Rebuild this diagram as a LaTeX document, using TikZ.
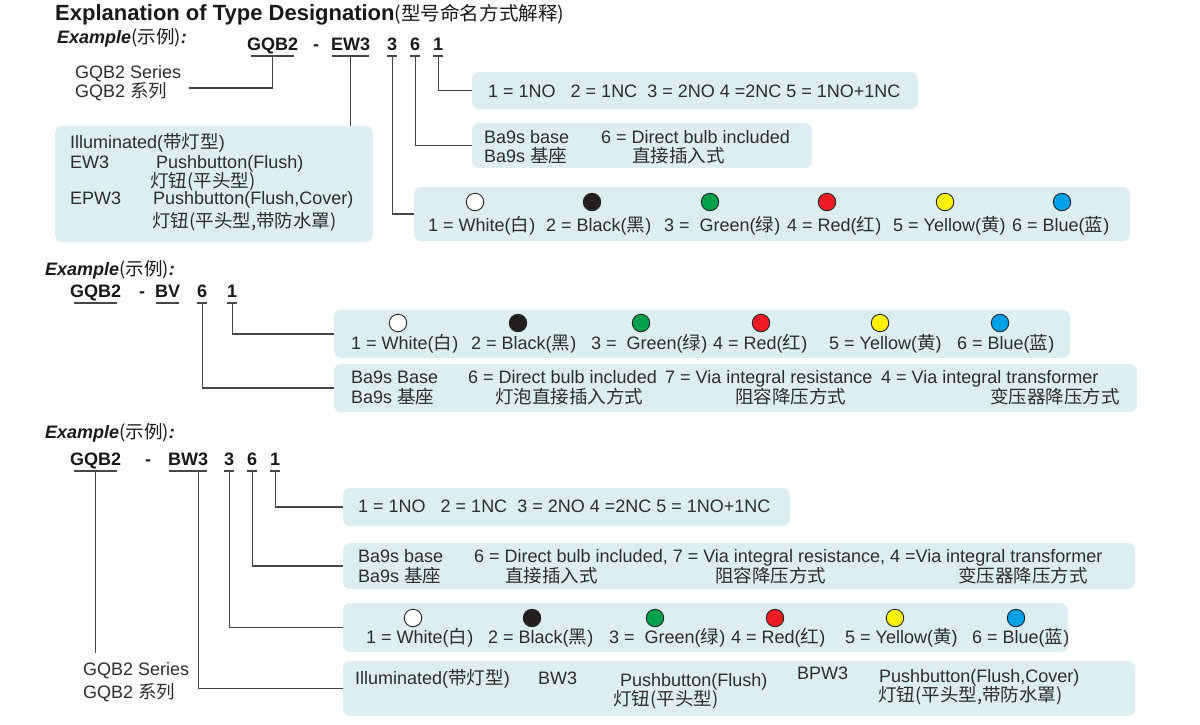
\documentclass[tikz,border=0pt]{standalone}
\usepackage{fontspec}
\setmainfont{Liberation Sans}
\newfontfamily\cjk[FakeStretch=1.03]{Noto Sans CJK SC}
\newcommand{\zh}[1]{{\cjk #1}}
\definecolor{boxcol}{RGB}{220,238,242}
\definecolor{tcol}{RGB}{45,45,45}
\definecolor{lcol}{RGB}{70,70,70}
\definecolor{cgreen}{RGB}{0,161,75}
\definecolor{cred}{RGB}{237,28,36}
\definecolor{cyellow}{RGB}{255,242,0}
\definecolor{cblue}{RGB}{0,160,233}
\definecolor{cblack}{RGB}{35,31,32}
\begin{document}
\begin{tikzpicture}[x=1pt,y=-1pt,
  box/.style={fill=boxcol, rounded corners=7pt, draw=none, inner sep=0pt, outer sep=0pt},
  txt/.style={anchor=base west, inner sep=0pt, text=tcol, font=\fontsize{18}{21}\selectfont},
  codetxt/.style={anchor=base west, inner sep=0pt, text=black!90, font=\bfseries\fontsize{18}{21}\selectfont},
  extxt/.style={anchor=base west, inner sep=0pt, text=black!90, font=\bfseries\itshape\fontsize{18}{21}\selectfont},
  conn/.style={draw=lcol, line width=1.4pt},
  uline/.style={draw=lcol, line width=1.4pt},
  swatch/.style={circle, draw=black!85, line width=0.9pt, minimum size=17.5pt, inner sep=0pt}]
\fill[white] (0,0) rectangle (1200,724);
\useasboundingbox (0,0) rectangle (1200,724);

% ---------- boxes ----------
\node[box, minimum width=446pt, minimum height=37pt] (b11) at (695,90.5) {};
\node[box, minimum width=340pt, minimum height=45pt] (b12) at (642,145.5) {};
\node[box, minimum width=716pt, minimum height=54pt] (b13) at (772,214) {};
\node[box, minimum width=318pt, minimum height=116pt] (b14) at (214,184) {};
\node[box, minimum width=736pt, minimum height=48pt] (b21) at (702,334) {};
\node[box, minimum width=803pt, minimum height=48pt] (b22) at (735.5,388) {};
\node[box, minimum width=447pt, minimum height=38pt] (b31) at (566.5,507) {};
\node[box, minimum width=792pt, minimum height=46pt] (b32) at (739,566) {};
\node[box, minimum width=725pt, minimum height=49pt] (b33) at (705.5,627.5) {};
\node[box, minimum width=792pt, minimum height=55pt] (b34) at (739,688.5) {};

% ---------- title ----------
\node[anchor=base west, inner sep=0pt, text=black!90, font=\bfseries\fontsize{22}{26}\selectfont] (title) at (55,20)
  {Explanation of Type Designation{\mdseries\cjk\fontsize{19}{22}\selectfont (型号命名方式解释)}};

% ---------- example 1 ----------
\node[extxt] (ex1) at (57,43) {Example{\mdseries\upshape\cjk\fontsize{18}{21}\selectfont (示例)}:};
\node[codetxt] (c1g) at (247,50) {GQB2};
\node[codetxt] (c1d) at (313,50) {-};
\node[codetxt] (c1e) at (331,50) {EW3};
\node[codetxt] (c1a) at (387,50) {3};
\node[codetxt] (c1b) at (410,50) {6};
\node[codetxt] (c1c) at (433,50) {1};

\node[txt] (s1a) at (75,78) {GQB2 Series};
\node[txt] (s1b) at (75,97) {GQB2 \zh{系列}};
\coordinate (s1end) at (189,88);

\node[txt] (i1a) at (70,148) {Illuminated(\zh{带灯型})};
\node[txt] (i1b) at (70,168) {EW3};
\node[txt] (i1c) at (156,168) {Pushbutton(Flush)};
\node[txt] (i1d) at (150,187) {\zh{灯钮(平头型)}};
\node[txt] (i1e) at (70,204) {EPW3};
\node[txt] (i1f) at (153,204) {Pushbutton(Flush,Cover)};
\node[txt] (i1g) at (152,227) {\zh{灯钮(平头型,带防水罩)}};

\node[txt] (t11) at (488,97) {1 = 1NO\ \ \ 2 = 1NC\ \ 3 = 2NO 4 =2NC 5 = 1NO+1NC};

\node[txt] (t12a) at (484,143) {Ba9s base};
\node[txt] (t12b) at (484,162) {Ba9s \zh{基座}};
\node[txt] (t12c) at (601,143) {6 = Direct bulb included};
\node[txt] (t12d) at (632,162) {\zh{直接插入式}};

\node[swatch, fill=white] (d13a) at (475,202) {};
\node[swatch, fill=cblack] (d13b) at (592,202) {};
\node[swatch, fill=cgreen] (d13c) at (710,202) {};
\node[swatch, fill=cred] (d13d) at (827,202) {};
\node[swatch, fill=cyellow] (d13e) at (945,202) {};
\node[swatch, fill=cblue] (d13f) at (1062,202) {};
\node[txt] (t13a) at (428,231) {1 = White(\zh{白})};
\node[txt] (t13b) at (546,231) {2 = Black(\zh{黑})};
\node[txt] (t13c) at (664,231) {3 =\ \ Green(\zh{绿})};
\node[txt] (t13d) at (787,231) {4 = Red(\zh{红})};
\node[txt] (t13e) at (893,231) {5 = Yellow(\zh{黄})};
\node[txt] (t13f) at (1012,231) {6 = Blue(\zh{蓝})};

% ---------- example 2 ----------
\node[extxt] (ex2) at (45,275) {Example{\mdseries\upshape\cjk\fontsize{18}{21}\selectfont (示例)}:};
\node[codetxt] (c2g) at (70,297) {GQB2};
\node[codetxt] (c2d) at (139,297) {-};
\node[codetxt] (c2e) at (155,297) {BV};
\node[codetxt] (c2b) at (197,297) {6};
\node[codetxt] (c2c) at (227,297) {1};

\node[swatch, fill=white] (d21a) at (398,323) {};
\node[swatch, fill=cblack] (d21b) at (518,323) {};
\node[swatch, fill=cgreen] (d21c) at (641,323) {};
\node[swatch, fill=cred] (d21d) at (761,323) {};
\node[swatch, fill=cyellow] (d21e) at (880,323) {};
\node[swatch, fill=cblue] (d21f) at (1000,323) {};
\node[txt] (t21a) at (351,349) {1 = White(\zh{白})};
\node[txt] (t21b) at (471,349) {2 = Black(\zh{黑})};
\node[txt] (t21c) at (591,349) {3 =\ \ Green(\zh{绿})};
\node[txt] (t21d) at (713,349) {4 = Red(\zh{红})};
\node[txt] (t21e) at (829,349) {5 = Yellow(\zh{黄})};
\node[txt] (t21f) at (957,349) {6 = Blue(\zh{蓝})};

\node[txt] (t22a) at (351,383) {Ba9s Base};
\node[txt] (t22b) at (351,403) {Ba9s \zh{基座}};
\node[txt] (t22c) at (468,383) {6 = Direct bulb included};
\node[txt] (t22d) at (495,403) {\zh{灯泡直接插入方式}};
\node[txt] (t22e) at (665,383) {7 = Via integral resistance};
\node[txt] (t22f) at (735,403) {\zh{阻容降压方式}};
\node[txt] (t22g) at (881,383) {4 = Via integral transformer};
\node[txt] (t22h) at (990,403) {\zh{变压器降压方式}};

% ---------- example 3 ----------
\node[extxt] (ex3) at (45,438) {Example{\mdseries\upshape\cjk\fontsize{18}{21}\selectfont (示例)}:};
\node[codetxt] (c3g) at (70,465) {GQB2};
\node[codetxt] (c3d) at (145,465) {-};
\node[codetxt] (c3e) at (168,465) {BW3};
\node[codetxt] (c3a) at (224,465) {3};
\node[codetxt] (c3b) at (247,465) {6};
\node[codetxt] (c3c) at (270,465) {1};

\node[txt] (s3a) at (83,675) {GQB2 Series};
\node[txt] (s3b) at (83,698) {GQB2 \zh{系列}};
\coordinate (g3end) at (95,653);

\node[txt] (t31) at (358,512) {1 = 1NO\ \ \ 2 = 1NC\ \ 3 = 2NO 4 =2NC 5 = 1NO+1NC};

\node[txt] (t32a) at (358,562) {Ba9s base};
\node[txt] (t32b) at (358,582) {Ba9s \zh{基座}};
\node[txt] (t32c) at (474,562) {6 = Direct bulb included, 7 = Via integral resistance, 4 =Via integral transformer};
\node[txt] (t32d) at (505,582) {\zh{直接插入式}};
\node[txt] (t32e) at (715,582) {\zh{阻容降压方式}};
\node[txt] (t32f) at (958,582) {\zh{变压器降压方式}};

\node[swatch, fill=white] (d33a) at (413,618) {};
\node[swatch, fill=cblack] (d33b) at (532,618) {};
\node[swatch, fill=cgreen] (d33c) at (655,618) {};
\node[swatch, fill=cred] (d33d) at (775,618) {};
\node[swatch, fill=cyellow] (d33e) at (895,618) {};
\node[swatch, fill=cblue] (d33f) at (1016,618) {};
\node[txt] (t33a) at (366,643) {1 = White(\zh{白})};
\node[txt] (t33b) at (488,643) {2 = Black(\zh{黑})};
\node[txt] (t33c) at (609,643) {3 =\ \ Green(\zh{绿})};
\node[txt] (t33d) at (731,643) {4 = Red(\zh{红})};
\node[txt] (t33e) at (845,643) {5 = Yellow(\zh{黄})};
\node[txt] (t33f) at (972,643) {6 = Blue(\zh{蓝})};

\node[txt] (t34a) at (355,684) {Illuminated(\zh{带灯型})};
\node[txt] (t34b) at (538,684) {BW3};
\node[txt] (t34c) at (620,686) {Pushbutton(Flush)};
\node[txt] (t34d) at (613,705) {\zh{灯钮(平头型)}};
\node[txt] (t34e) at (797,679) {BPW3};
\node[txt] (t34f) at (879,682) {Pushbutton(Flush,Cover)};
\node[txt] (t34g) at (878,701) {\zh{灯钮(平头型,带防水罩)}};

% ---------- underlines ----------
\foreach \n in {c1g,c2g,c3g}
  \draw[uline] ([xshift=4pt,yshift=-6pt]\n.base west) -- ([xshift=-4pt,yshift=-6pt]\n.base east);
\foreach \n in {c1e,c2e,c3e}
  \draw[uline] ([xshift=1pt,yshift=-6pt]\n.base west) -- ([xshift=-1pt,yshift=-6pt]\n.base east);
\foreach \n in {c1a,c1b,c1c,c2b,c2c,c3a,c3b,c3c}
  \draw[uline] ([xshift=-5pt,yshift=-6pt]\n.base) -- ([xshift=5pt,yshift=-6pt]\n.base);

% ---------- connectors ----------
\draw[conn] ([yshift=-6pt]c1g.base) |- (s1end);
\draw[conn] ([yshift=-6pt]c1e.base) -- (c1e.base |- b14.north);
\draw[conn] ([yshift=-6pt]c1c.base) |- (b11.west);
\draw[conn] ([yshift=-6pt]c1b.base) |- (b12.west);
\draw[conn] ([yshift=-6pt]c1a.base) |- (b13.west);

\draw[conn] ([yshift=-6pt]c2c.base) |- (b21.west);
\draw[conn] ([yshift=-6pt]c2b.base) |- (b22.west);

\draw[conn] ([yshift=-6pt]c3g.base) -- (c3g.base |- g3end);
\draw[conn] ([xshift=10pt,yshift=-6pt]c3e.base) |- (b34.west);
\draw[conn] ([yshift=-6pt]c3a.base) |- (b33.west);
\draw[conn] ([yshift=-6pt]c3b.base) |- (b32.west);
\draw[conn] ([yshift=-6pt]c3c.base) |- (b31.west);
\end{tikzpicture}
\end{document}
